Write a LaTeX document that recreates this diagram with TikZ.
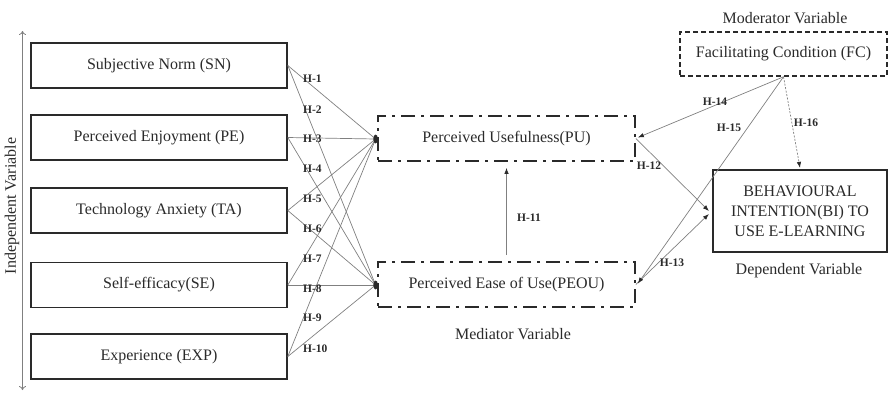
\documentclass[tikz,border=0pt]{standalone}
\usepackage{fontspec}
\setmainfont{Liberation Serif}
\usetikzlibrary{arrows.meta,calc}
\definecolor{ink}{HTML}{2A2A2A}
\definecolor{wire}{HTML}{808080}
\begin{document}
\begin{tikzpicture}[x=1pt,y=-1pt,
  every node/.style={text=ink},
  indep/.style={draw=ink,line width=1.6pt,minimum width=256pt,minimum height=45pt,inner sep=0pt,font=\fontsize{16}{18}\selectfont},
  medbox/.style={draw=ink,line width=1.8pt,dash pattern=on 14pt off 6pt on 3pt off 6pt,minimum width=257pt,minimum height=45pt,inner sep=0pt,font=\fontsize{16}{18}\selectfont},
  modbox/.style={draw=ink,line width=1.6pt,dash pattern=on 5pt off 3pt,minimum width=207pt,minimum height=44pt,inner sep=0pt,font=\fontsize{16}{18}\selectfont},
  depbox/.style={draw=ink,line width=2.2pt,minimum width=174pt,minimum height=82pt,inner sep=0pt,align=center,font=\fontsize{16}{20}\selectfont},
  wirestyle/.style={draw=wire,line width=0.7pt},
  arr/.style={wirestyle,-{Latex[length=6pt,width=4.5pt]},-{Latex[length=6pt,width=4.5pt,fill=ink,color=ink]}},
  hlab/.style={font=\bfseries\fontsize{11.5}{12}\selectfont,inner sep=0pt},
  caption/.style={font=\fontsize{16}{18}\selectfont,inner sep=0pt}
]
\useasboundingbox (0,0) rectangle (888,392);

% independent variables
\node[indep] (SN)  at (159,65.5)  {Subjective Norm (SN)};
\node[indep] (PE)  at (159,137.5) {Perceived Enjoyment (PE)};
\node[indep] (TA)  at (159,210.5) {Technology Anxiety (TA)};
\node[indep] (SE)  at (159,285)   {Self-efficacy(SE)};
\node[indep] (EXP) at (159,356.5) {Experience (EXP)};

% mediators
\node[medbox] (PU)   at (506.5,138.5) {Perceived Usefulness(PU)};
\node[medbox] (PEOU) at (506.5,284.5) {Perceived Ease of Use(PEOU)};
\node[caption] (medlab) at (513,334) {Mediator Variable};

% moderator and dependent
\node[modbox] (FC) at (783.5,54) {Facilitating Condition (FC)};
\node[caption] (modlab) at (785,18) {Moderator Variable};
\node[depbox] (BI) at (800,211) {BEHAVIOURAL\\INTENTION(BI) TO\\USE E-LEARNING};
\node[caption] (deplab) at (799,271) {Dependent Variable};

% independent variable axis
\coordinate (axtop) at (22.5,31);
\coordinate (axbot) at (22.5,390);
\draw[draw=wire,line width=0.8pt,{To[length=4pt,width=7pt]}-{To[length=4pt,width=7pt]}] (axtop) -- (axbot);
\node[caption,rotate=90] (indlab) at (12,206) {Independent Variable};

% convergence dots
\coordinate (pudot) at ($(PU.west)+(-1.5,0.5)$);
\coordinate (peoudot) at ($(PEOU.west)+(-1.5,0.5)$);

% hypotheses H-1..H-10
\foreach \s in {SN,PE,TA,SE,EXP}{
  \draw[wirestyle] (\s.east) -- (pudot);
  \draw[wirestyle] (\s.east) -- (peoudot);
}
\fill[ink] (pudot) ellipse (2.3pt and 4.5pt);
\fill[ink] (peoudot) ellipse (2.3pt and 4.5pt);

\node[hlab,anchor=west] (h1)  at (303,79)  {H-1};
\node[hlab,anchor=west] (h2)  at (303,110) {H-2};
\node[hlab,anchor=west] (h3)  at (303,139) {H-3};
\node[hlab,anchor=west] (h4)  at (303,169) {H-4};
\node[hlab,anchor=west] (h5)  at (303,199) {H-5};
\node[hlab,anchor=west] (h6)  at (303,229) {H-6};
\node[hlab,anchor=west] (h7)  at (303,259) {H-7};
\node[hlab,anchor=west] (h8)  at (303,289) {H-8};
\node[hlab,anchor=west] (h9)  at (303,318) {H-9};
\node[hlab,anchor=west] (h10) at (303,349) {H-10};

% H-11
\draw[arr,shorten <=6pt,shorten >=6pt] (PEOU.north) -- (PU.south);
\node[hlab,anchor=west] (h11) at (517,218) {H-11};

% H-12, H-13
\coordinate (bi1) at ($(BI.west)+(-3,0)$);
\coordinate (bi2) at ($(BI.west)+(-3,3)$);
\draw[arr] (PU.east) -- (bi1);
\draw[arr] (PEOU.east) -- (bi2);
\node[hlab] (h12) at (649,166) {H-12};
\node[hlab] (h13) at (672,263) {H-13};

% H-14, H-15, H-16
\draw[arr] (FC.south) -- ($(PU.east)+(2,-1)$);
\draw[arr] (FC.south) -- ($(PEOU.east)+(2,-1)$);
\draw[arr,dash pattern=on 2pt off 1.5pt] (FC.south) -- ($(BI.north)+(0,-1)$);
\node[hlab] (h14) at (715,102) {H-14};
\node[hlab] (h15) at (729,128) {H-15};
\node[hlab] (h16) at (806,123) {H-16};
\end{tikzpicture}
\end{document}
